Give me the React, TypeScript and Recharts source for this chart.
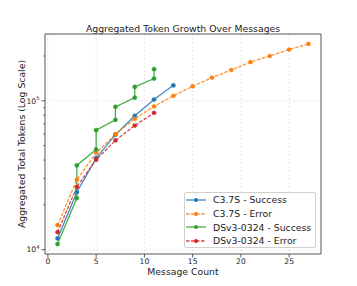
import React from 'react';
import { CartesianGrid, Line, LineChart, XAxis, YAxis } from 'recharts';

const WIDTH = 357;
const HEIGHT = 286;
const FONT = '"DejaVu Sans", sans-serif';

// values (log-scale y)
const c37sSuccessX = [1, 3, 5, 7, 9, 11, 13];
const c37sSuccessY = [11900, 24300, 41200, 59200, 79300, 102000, 127000];

const c37sErrorX = [1, 3, 5, 7, 9, 11, 13, 15, 17, 19, 21, 23, 25, 27];
const c37sErrorY = [14600, 29500, 44600, 59700, 75700, 91600, 108000, 125000, 143000, 161000, 182000, 200000, 221000, 241000];

const dsSuccessX = [1, 3, 3, 5, 5, 7, 7, 9, 9, 11, 11];
const dsSuccessY = [10900, 22200, 36800, 47100, 63500, 74500, 91100, 105000, 124000, 141000, 163000];

const dsErrorX = [1, 3, 5, 7, 9, 11];
const dsErrorY = [13100, 26400, 40200, 54200, 68200, 83000];

const xTicks = [0, 5, 10, 15, 20, 25];
const yMajorTicks = [10000, 100000];
const yMinorTicks = [20000, 30000, 40000, 50000, 60000, 70000, 80000, 90000, 200000];

const toPoints = (xs: number[], ys: number[]) => xs.map((x, i) => ({ x, y: ys[i] }));

interface SeriesDef {
  name: string;
  color: string;
  dashed: boolean;
  data: { x: number; y: number }[];
}

const series: SeriesDef[] = [
  { name: 'C3.7S - Success', color: '#1f77b4', dashed: false, data: toPoints(c37sSuccessX, c37sSuccessY) },
  { name: 'C3.7S - Error', color: '#ff7f0e', dashed: true, data: toPoints(c37sErrorX, c37sErrorY) },
  { name: 'DSv3-0324 - Success', color: '#2ca02c', dashed: false, data: toPoints(dsSuccessX, dsSuccessY) },
  { name: 'DSv3-0324 - Error', color: '#d62728', dashed: true, data: toPoints(dsErrorX, dsErrorY) },
];

const labelStyle: React.CSSProperties = {
  position: 'absolute',
  fontFamily: FONT,
  fontSize: 9.3,
  lineHeight: '11px',
  color: '#222',
  whiteSpace: 'nowrap',
};

function XTick(props: any) {
  const { x, y, payload } = props;
  return (
    <g>
      <line x1={x} x2={x} y1={y} y2={y + 3.5} stroke="#333" strokeWidth={0.8} />
      <text x={x} y={y + 9.8} textAnchor="middle" fontSize={7.6} fill="#222" fontFamily={FONT}>
        {payload.value}
      </text>
    </g>
  );
}

function YTick(props: any) {
  const { x, y, payload } = props;
  const major = yMajorTicks.includes(payload.value);
  if (!major) {
    return <line x1={x - 2} x2={x} y1={y} y2={y} stroke="#333" strokeWidth={0.6} />;
  }
  const exp = Math.round(Math.log10(payload.value));
  return (
    <g>
      <line x1={x - 3.5} x2={x} y1={y} y2={y} stroke="#333" strokeWidth={0.8} />
      <text x={x - 5.5} y={y + 2.8} textAnchor="end" fontSize={7.6} fill="#222" fontFamily={FONT}>
        10
        <tspan dy={-3.5} fontSize={5.3}>
          {exp}
        </tspan>
      </text>
    </g>
  );
}

function LegendBox() {
  return (
    <div
      style={{
        position: 'absolute',
        left: 184,
        top: 192,
        width: 132,
        height: 56,
        border: '1px solid #d0d0d0',
        borderRadius: 2,
        background: 'rgba(255,255,255,0.85)',
        boxSizing: 'border-box',
      }}
    >
      {series.map((s) => (
        <div key={s.name} style={{ display: 'flex', alignItems: 'center', height: 13.7 }}>
          <svg width={28} height={10} style={{ flex: 'none' }}>
            <line
              x1={1}
              x2={21}
              y1={5}
              y2={5}
              stroke={s.color}
              strokeWidth={1.3}
              strokeDasharray={s.dashed ? '3.5 1.5' : undefined}
              strokeOpacity={0.85}
            />
            <circle cx={11} cy={5} r={2} fill={s.color} />
          </svg>
          <span style={{ fontFamily: FONT, fontSize: 9.3, color: '#222', whiteSpace: 'nowrap' }}>{s.name}</span>
        </div>
      ))}
    </div>
  );
}

export default function App() {
  return (
    <div style={{ position: 'absolute', left: 0, top: 0, width: WIDTH, height: HEIGHT, background: '#fff' }}>
      <div style={{ ...labelStyle, left: 45, width: 276, top: 23, textAlign: 'center' }}>
        Aggregated Token Growth Over Messages
      </div>
      <div style={{ ...labelStyle, left: 45, width: 276, top: 266, textAlign: 'center' }}>Message Count</div>
      <div style={{ ...labelStyle, left: 21, top: 144, transform: 'translate(-50%, -50%) rotate(-90deg)' }}>
        Aggregated Total Tokens (Log Scale)
      </div>
      <div style={{ position: 'absolute', left: 0, top: 0 }}>
        <LineChart width={WIDTH} height={HEIGHT} margin={{ top: 33, right: 35, bottom: 12, left: 15 }}>
          <CartesianGrid
            stroke="#d9d9d9"
            strokeDasharray="2 2"
            strokeWidth={0.6}
            verticalValues={xTicks}
            horizontalValues={yMajorTicks}
          />
          <XAxis
            type="number"
            dataKey="x"
            domain={[-0.3, 28.3]}
            ticks={xTicks}
            allowDataOverflow
            height={20}
            tickSize={0}
            tickMargin={0}
            tickLine={false}
            tick={<XTick />}
            axisLine={{ stroke: '#555', strokeWidth: 1 }}
            interval={0}
          />
          <XAxis
            xAxisId="top"
            orientation="top"
            type="number"
            domain={[0, 1]}
            height={1}
            tick={false}
            tickLine={false}
            axisLine={{ stroke: '#555', strokeWidth: 1 }}
          />
          <YAxis
            type="number"
            dataKey="y"
            scale="log"
            domain={[9350, 281000]}
            ticks={[...yMajorTicks, ...yMinorTicks]}
            allowDataOverflow
            width={30}
            tickSize={0}
            tickMargin={0}
            tickLine={false}
            tick={<YTick />}
            axisLine={{ stroke: '#555', strokeWidth: 1 }}
            interval={0}
          />
          <YAxis
            yAxisId="right"
            orientation="right"
            type="number"
            domain={[0, 1]}
            width={1}
            tick={false}
            tickLine={false}
            axisLine={{ stroke: '#555', strokeWidth: 1 }}
          />
          {series.map((s) => (
            <Line
              key={s.name}
              data={s.data}
              dataKey="y"
              name={s.name}
              type="linear"
              stroke={s.color}
              strokeWidth={1.3}
              strokeOpacity={0.85}
              strokeDasharray={s.dashed ? '3.5 1.5' : undefined}
              dot={{ r: 2.1, fill: s.color, stroke: s.color, strokeWidth: 0.5, fillOpacity: 1 }}
              activeDot={false}
              isAnimationActive={false}
            />
          ))}
        </LineChart>
      </div>
      <LegendBox />
    </div>
  );
}
